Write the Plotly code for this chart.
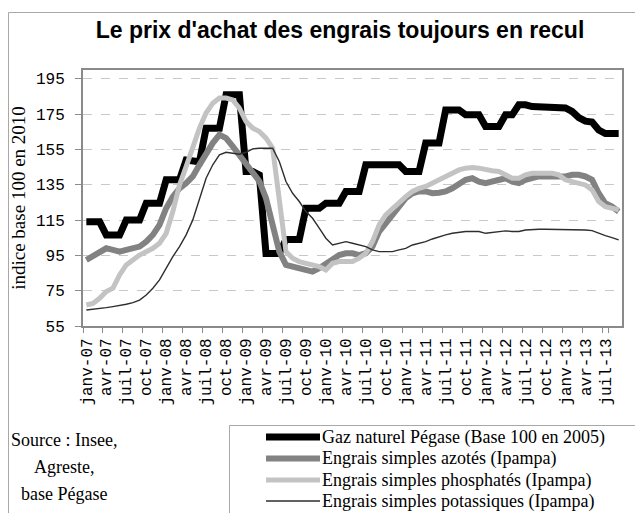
import plotly.graph_objects as go

# ---------------- data ----------------
month_abbr = ["janv", "févr", "mars", "avr", "mai", "juin",
              "juil", "août", "sept", "oct", "nov", "déc"]
months = [f"{m}-{y:02d}" for y in range(7, 14) for m in month_abbr][:81]  # janv-07 .. sept-13
tick_labels = months[::3]

series_names = [
    "Gaz naturel Pégase (Base 100 en 2005)",
    "Engrais simples azotés (Ipampa)",
    "Engrais simples phosphatés (Ipampa)",
    "Engrais simples potassiques (Ipampa)",
]

gaz = [114, 114, 114, 106.5, 106.5, 106.5, 115, 115, 115, 124.5, 124.5, 124.5,
       137.8, 137.8, 137.8, 149, 148, 148, 167, 167, 167, 186, 186, 186,
       142.5, 142.5, 140.5, 96, 96, 96, 104, 104, 104, 121.7, 121.7, 121.7,
       124.5, 124.5, 124.5, 131.2, 131.2, 131.2, 146.3, 146.3, 146.3, 146.3, 146.3, 146.3,
       142.5, 142.5, 142.5, 158.6, 158.6, 158.6, 177.4, 177.4, 177.4, 174.6, 174.6, 174.6,
       168, 168, 168, 174.6, 174.6, 180.3, 180.3, 179.3, 179.3, 179.3, 179.3, 179.3,
       178.5, 176.5, 173, 171, 170.5, 166, 164, 164, 164]

azotes = [92.4, 94.3, 97.1, 99, 98.1, 97.1, 98.1, 99, 100, 102.8, 106.6, 112.3,
          121.7, 128.3, 133, 135.9, 139.7, 146.3, 152.9, 158.6, 163.3, 161.4, 156.7, 151.9,
          146.3, 141.5, 137, 127.4, 112.3, 97.1, 89.6, 88.6, 87.7, 86.7, 85.8, 87.7,
          90.5, 93.4, 95.2, 96.2, 96.2, 95.2, 96.2, 100, 108.5, 113.2, 117.9, 122.6,
          127.4, 130.2, 131.2, 131.2, 130.2, 130.5, 131.2, 133, 135.9, 137.8, 138.7, 136.8,
          135.9, 136.8, 137.8, 138.7, 136.8, 135.9, 137.8, 138.7, 139.7, 139.7, 139.7, 139.7,
          139.7, 140.6, 140.6, 139.7, 137.8, 130.2, 124.5, 122.6, 119.8]

phosphates = [66.9, 67.8, 70.7, 74.5, 76.4, 83.9, 89.6, 92.4, 95.2, 97.1, 99, 101.9,
              107.5, 119.8, 134.9, 145.3, 156.7, 167.1, 175.6, 181.2, 184.1, 184.1, 183.1, 178.4,
              170.8, 167.1, 165.2, 161.4, 155.7, 123.6, 97.1, 93.4, 91.5, 90.5, 89.6, 88.6,
              86.7, 90.5, 91.5, 91.5, 91.5, 93.4, 96.2, 102.8, 112.3, 117.9, 121.7, 124.5,
              128.3, 131.2, 133, 134, 135.9, 137.8, 139.7, 141.5, 143.4, 144.4, 144.8, 144.4,
              143.4, 142.9, 142.5, 140.6, 138.7, 138.7, 140.6, 141.5, 141.5, 141.5, 141.5, 140.6,
              137.8, 136.8, 135.9, 134.9, 132.1, 125.5, 122.6, 121.7, 120.8]

potassiques = [64.1, 64.4, 65, 65.4, 66, 66.5, 67.3, 68.2, 69.7, 72.6, 76.4, 81.1,
               87.7, 94.3, 100, 106.6, 115.1, 127.4, 138.7, 146.3, 151.9, 153.4, 152.9, 152.3,
               153.4, 155.3, 155.7, 155.7, 155.7, 148.2, 136.8, 130.2, 125.5, 119.8, 116, 110.4,
               104.7, 100.9, 101.9, 102.8, 101.9, 100.9, 100, 98.1, 97.1, 97.1, 97.1, 98.1,
               99, 100.9, 101.9, 102.8, 104.3, 105.6, 106.6, 107.5, 108.1, 108.5, 108.5, 108.5,
               107.5, 108, 108.5, 108.9, 108.5, 108.5, 109.4, 109.8, 109.8, 109.8, 109.8, 109.6,
               109.4, 109.4, 109.4, 109.4, 109, 107.5, 106.2, 105.1, 103.8]

y_ticks = [55, 75, 95, 115, 135, 155, 175, 195]

# ---------------- styles ----------------
colors = ["#000000", "#828282", "#c3c3c3", "#2e2e2e"]
widths = [7, 6, 5, 1.4]
series = [gaz, azotes, phosphates, potassiques]

# The page body has an 8px default margin: the figure is sized/offset for it.
OFF = 8
W, H = 643 - OFF, 513 - OFF
ML, MR, MT, MB = 83 - OFF, 21, 70 - OFF, 187
PW, PH = W - ML - MR, H - MT - MB


def px_x(x):  # page pixel -> paper coordinate
    return (x - OFF - ML) / PW


def px_y(y):
    return (H - MB - (y - OFF)) / PH


fig = go.Figure()
for name, vals, c, w in zip(series_names, series, colors, widths):
    fig.add_trace(go.Scatter(x=months, y=vals, name=name, mode="lines",
                             line=dict(color=c, width=w), showlegend=False))

axis_font_y = dict(family="Liberation Mono", size=16, color="#000")
axis_font_x = dict(family="Liberation Mono", size=16, color="#000")

fig.update_layout(
    width=W, height=H,
    margin=dict(l=ML, r=MR, t=MT, b=MB, autoexpand=False),
    paper_bgcolor="white", plot_bgcolor="white",
    title=dict(text="Le prix d'achat des engrais toujours en recul",
               font=dict(family="Liberation Sans", size=23, color="#000", weight="bold"),
               x=(340 - OFF) / W, xanchor="center", y=1 - (30 - OFF) / H, yanchor="middle"),
    xaxis=dict(type="category", range=[-0.5, len(months) - 0.5],
               tickmode="array", tickvals=tick_labels, ticktext=tick_labels,
               tickson="boundaries", ticks="outside", ticklen=5, tickcolor="#8a8a8a",
               tickangle=-90, tickfont=axis_font_x, ticklabelstandoff=4,
               showgrid=False, showline=True, linecolor="#8a8a8a", linewidth=2,
               mirror=True, zeroline=False),
    yaxis=dict(range=[55, 200], tickmode="array", tickvals=y_ticks,
               ticks="outside", ticklen=6, tickcolor="#8a8a8a",
               tickfont=axis_font_y, ticklabelstandoff=7,
               showgrid=True, gridcolor="#c8c8c8", griddash="dash", gridwidth=1,
               showline=True, linecolor="#8a8a8a", linewidth=2, mirror=True,
               zeroline=False,
               title=dict(text="indice base 100 en 2010",
                          font=dict(family="Liberation Serif", size=19, color="#000"),
                          standoff=6)),
)

shapes = []
# outer chart frame (left and top edges visible)
shapes.append(dict(type="line", xref="paper", yref="paper",
                   x0=px_x(8.5), x1=px_x(8.5), y0=px_y(520), y1=px_y(12.5),
                   line=dict(color="#a8a8a8", width=1)))
shapes.append(dict(type="line", xref="paper", yref="paper",
                   x0=px_x(8.5), x1=px_x(650), y0=px_y(12.5), y1=px_y(12.5),
                   line=dict(color="#a8a8a8", width=1)))
# legend box (left and top edges visible)
shapes.append(dict(type="line", xref="paper", yref="paper",
                   x0=px_x(229.5), x1=px_x(229.5), y0=px_y(520), y1=px_y(425.5),
                   line=dict(color="#a8a8a8", width=1)))
shapes.append(dict(type="line", xref="paper", yref="paper",
                   x0=px_x(229.5), x1=px_x(650), y0=px_y(425.5), y1=px_y(425.5),
                   line=dict(color="#a8a8a8", width=1)))

legend_rows = [437, 458.5, 480, 501]
annotations = []
for name, c, w, yy in zip(series_names, colors, widths, legend_rows):
    shapes.append(dict(type="line", xref="paper", yref="paper",
                       x0=px_x(266), x1=px_x(320), y0=px_y(yy), y1=px_y(yy),
                       line=dict(color=c, width=w)))
    annotations.append(dict(text=name, xref="paper", yref="paper",
                            x=px_x(320), y=px_y(yy), xanchor="left", yanchor="middle",
                            showarrow=False,
                            font=dict(family="Liberation Serif", size=18, color="#000")))

source_lines = ["Source : Insee,", "Agreste,", "base Pégase"]
for txt, yy in zip(source_lines, [440, 467, 494]):
    annotations.append(dict(text=txt, xref="paper", yref="paper",
                            x=px_x(64), y=px_y(yy), xanchor="center", yanchor="middle",
                            showarrow=False,
                            font=dict(family="Liberation Serif", size=18, color="#000")))

fig.update_layout(shapes=shapes, annotations=annotations)
fig.write_html("out.html")
